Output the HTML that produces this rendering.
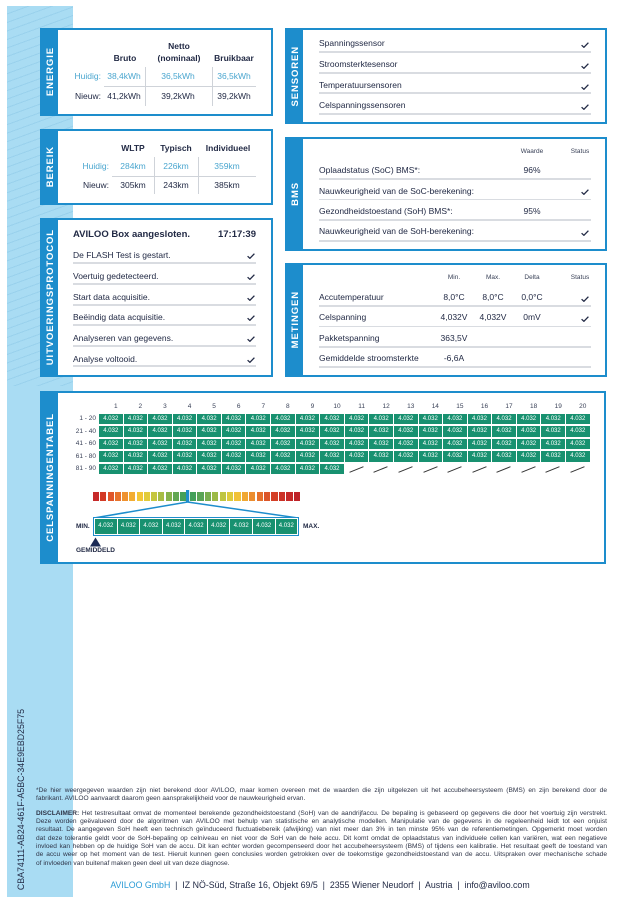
<!DOCTYPE html>
<html><head><meta charset="utf-8">
<style>
*{margin:0;padding:0}
html,body{width:640px;height:904px;background:#fff;overflow:hidden}
body{position:relative;font-family:"Liberation Sans",sans-serif;color:#222a45}
.strip{position:absolute;left:7px;top:6px;width:66px;height:891px;background:#a9dcf3}
.hatch{position:absolute;left:7px;top:6px;width:66px;height:380px;background:repeating-linear-gradient(160deg,rgba(255,255,255,0) 0 7px,rgba(140,200,230,0.55) 7px 8px)}
.box{position:absolute;border:2px solid #1d8dcc;background:#fff;box-sizing:border-box}
.tab{position:absolute;left:0;top:0;bottom:0;width:16px;background:#1d8dcc;display:flex;align-items:center;justify-content:center}
.tab span{writing-mode:vertical-rl;transform:rotate(180deg);color:#fff;font-weight:bold;font-size:9.5px;letter-spacing:0.9px;white-space:nowrap}
.t{position:absolute;white-space:nowrap;line-height:10px;font-size:8.5px;color:#222a45}
.c{width:80px;text-align:center;margin-left:-40px}
.r{width:60px;text-align:right;margin-left:-60px}
.b{font-weight:bold}
.lb{color:#4aa6cf}
.sm{font-size:6.5px;color:#3a4258}
.vl{position:absolute;width:1px;background:#cfd3d9}
.hl{position:absolute;height:1px;background:#cfd3d9}
.ln{position:absolute;height:1.5px;background:#d9dce1}
.ck{position:absolute;width:8px;height:6px}
.grid{position:absolute;left:99px;top:413.5px;display:grid;grid-template-columns:repeat(20,23.58px);grid-template-rows:repeat(5,10.5px);column-gap:1px;row-gap:2px}
.grid i{font-style:normal;background:#189170;color:#fff;font-size:6px;line-height:10.5px;text-align:center}
.grid b{position:relative}
.grid b::after{content:"";position:absolute;left:4px;top:5px;width:15px;height:1px;background:#333;transform:rotate(-22deg)}
.hdr{position:absolute;left:99px;top:402px;display:grid;grid-template-columns:repeat(20,23.58px);column-gap:1px}
.hdr span{font-size:6.5px;line-height:10px;text-align:center;padding-left:10px;color:#3a4258}
.rl{position:absolute;left:56px;width:40px;text-align:right;font-size:6.5px;line-height:10px;color:#3a4258}
.grad{position:absolute;top:492px;height:9px;display:flex;gap:1.2px}
.grad span{flex:1}
.mini{position:absolute;left:93px;top:517px;width:206px;height:19px;border:1.5px solid #1d8dcc;box-sizing:border-box;background:#fff;display:flex;gap:1px;padding:1px}
.mini i{flex:1;font-style:normal;background:#189170;color:#fff;font-size:6px;line-height:14px;text-align:center}
.foot{position:absolute;left:36px;width:571px;font-size:6.6px;line-height:8.33px;color:#2f3548}
.foot div{white-space:nowrap}
.j{text-align:justify;text-align-last:justify;white-space:normal!important}
</style></head><body>

<div class="strip"></div>
<div class="hatch"></div>

<!-- ENERGIE -->
<div class="box" style="left:40px;top:28px;width:233px;height:88px"><div class="tab"><span>ENERGIE</span></div></div>
<div class="t b c" style="left:179px;top:41px">Netto</div>
<div class="t b c" style="left:179px;top:53px">(nominaal)</div>
<div class="t b c" style="left:125px;top:53px">Bruto</div>
<div class="t b c" style="left:234px;top:53px">Bruikbaar</div>
<div class="t r lb" style="left:101px;top:71px">Huidig:</div>
<div class="t c lb" style="left:124px;top:71px">38,4kWh</div>
<div class="t c lb" style="left:178px;top:71px">36,5kWh</div>
<div class="t c lb" style="left:234px;top:71px">36,5kWh</div>
<div class="t r" style="left:101px;top:91px">Nieuw:</div>
<div class="t c" style="left:124px;top:91px">41,2kWh</div>
<div class="t c" style="left:178px;top:91px">39,2kWh</div>
<div class="t c" style="left:234px;top:91px">39,2kWh</div>
<div class="vl" style="left:145px;top:67px;height:39px"></div>
<div class="vl" style="left:212px;top:67px;height:39px"></div>
<div class="hl" style="left:104px;top:86px;width:152px"></div>

<!-- BEREIK -->
<div class="box" style="left:40px;top:129px;width:233px;height:76px"><div class="tab"><span>BEREIK</span></div></div>
<div class="t b c" style="left:133px;top:143px">WLTP</div>
<div class="t b c" style="left:176px;top:143px">Typisch</div>
<div class="t b c" style="left:228px;top:143px">Individueel</div>
<div class="t r lb" style="left:109px;top:161px">Huidig:</div>
<div class="t c lb" style="left:133px;top:161px">284km</div>
<div class="t c lb" style="left:176px;top:161px">226km</div>
<div class="t c lb" style="left:227px;top:161px">359km</div>
<div class="t r" style="left:109px;top:180px">Nieuw:</div>
<div class="t c" style="left:133px;top:180px">305km</div>
<div class="t c" style="left:176px;top:180px">243km</div>
<div class="t c" style="left:227px;top:180px">385km</div>
<div class="vl" style="left:154px;top:157px;height:37px"></div>
<div class="vl" style="left:198px;top:157px;height:37px"></div>
<div class="hl" style="left:112px;top:176px;width:144px"></div>

<!-- UITVOERINGSPROTOCOL -->
<div class="box" style="left:40px;top:218px;width:233px;height:159px"><div class="tab"><span>UITVOERINGSPROTOCOL</span></div></div>
<div class="t b" style="left:73px;top:230px;font-size:9.5px">AVILOO Box aangesloten.</div>
<div class="t b r" style="left:256px;top:230px;font-size:9.5px">17:17:39</div>
<div class="t" style="left:73px;top:250px">De FLASH Test is gestart.</div>
<div class="t" style="left:73px;top:271px">Voertuig gedetecteerd.</div>
<div class="t" style="left:73px;top:292px">Start data acquisitie.</div>
<div class="t" style="left:73px;top:312px">Beëindig data acquisitie.</div>
<div class="t" style="left:73px;top:333px">Analyseren van gegevens.</div>
<div class="t" style="left:73px;top:354px">Analyse voltooid.</div>
<div class="ln" style="left:73px;top:262px;width:183px"></div>
<div class="ln" style="left:73px;top:283px;width:183px"></div>
<div class="ln" style="left:73px;top:304px;width:183px"></div>
<div class="ln" style="left:73px;top:324px;width:183px"></div>
<div class="ln" style="left:73px;top:345px;width:183px"></div>
<div class="ln" style="left:73px;top:365px;width:183px"></div>
<svg class="ck" style="left:247px;top:253px" viewBox="0 0 8 6"><path d="M0.6 3.2 L2.9 5.3 L7.4 0.7" fill="none" stroke="#222a45" stroke-width="1.3"/></svg>
<svg class="ck" style="left:247px;top:274px" viewBox="0 0 8 6"><path d="M0.6 3.2 L2.9 5.3 L7.4 0.7" fill="none" stroke="#222a45" stroke-width="1.3"/></svg>
<svg class="ck" style="left:247px;top:295px" viewBox="0 0 8 6"><path d="M0.6 3.2 L2.9 5.3 L7.4 0.7" fill="none" stroke="#222a45" stroke-width="1.3"/></svg>
<svg class="ck" style="left:247px;top:315px" viewBox="0 0 8 6"><path d="M0.6 3.2 L2.9 5.3 L7.4 0.7" fill="none" stroke="#222a45" stroke-width="1.3"/></svg>
<svg class="ck" style="left:247px;top:336px" viewBox="0 0 8 6"><path d="M0.6 3.2 L2.9 5.3 L7.4 0.7" fill="none" stroke="#222a45" stroke-width="1.3"/></svg>
<svg class="ck" style="left:247px;top:357px" viewBox="0 0 8 6"><path d="M0.6 3.2 L2.9 5.3 L7.4 0.7" fill="none" stroke="#222a45" stroke-width="1.3"/></svg>

<!-- SENSOREN -->
<div class="box" style="left:285px;top:28px;width:322px;height:96px"><div class="tab"><span>SENSOREN</span></div></div>
<div class="t" style="left:319px;top:38px">Spanningssensor</div>
<div class="t" style="left:319px;top:59px">Stroomsterktesensor</div>
<div class="t" style="left:319px;top:80px">Temperatuursensoren</div>
<div class="t" style="left:319px;top:100px">Celspanningssensoren</div>
<div class="ln" style="left:319px;top:51px;width:272px"></div>
<div class="ln" style="left:319px;top:72px;width:272px"></div>
<div class="ln" style="left:319px;top:92px;width:272px"></div>
<div class="ln" style="left:319px;top:113px;width:272px"></div>
<svg class="ck" style="left:581px;top:42px" viewBox="0 0 8 6"><path d="M0.6 3.2 L2.9 5.3 L7.4 0.7" fill="none" stroke="#222a45" stroke-width="1.3"/></svg>
<svg class="ck" style="left:581px;top:63px" viewBox="0 0 8 6"><path d="M0.6 3.2 L2.9 5.3 L7.4 0.7" fill="none" stroke="#222a45" stroke-width="1.3"/></svg>
<svg class="ck" style="left:581px;top:84px" viewBox="0 0 8 6"><path d="M0.6 3.2 L2.9 5.3 L7.4 0.7" fill="none" stroke="#222a45" stroke-width="1.3"/></svg>
<svg class="ck" style="left:581px;top:104px" viewBox="0 0 8 6"><path d="M0.6 3.2 L2.9 5.3 L7.4 0.7" fill="none" stroke="#222a45" stroke-width="1.3"/></svg>

<!-- BMS -->
<div class="box" style="left:285px;top:137px;width:322px;height:114px"><div class="tab"><span>BMS</span></div></div>
<div class="t c sm" style="left:532px;top:147px">Waarde</div>
<div class="t c sm" style="left:580px;top:147px">Status</div>
<div class="t" style="left:319px;top:165px">Oplaadstatus (SoC) BMS*:</div>
<div class="t c" style="left:532px;top:165px">96%</div>
<div class="t" style="left:319px;top:185.5px">Nauwkeurigheid van de SoC-berekening:</div>
<div class="t" style="left:319px;top:206px">Gezondheidstoestand (SoH) BMS*:</div>
<div class="t c" style="left:532px;top:206px">95%</div>
<div class="t" style="left:319px;top:226px">Nauwkeurigheid van de SoH-berekening:</div>
<div class="ln" style="left:319px;top:178px;width:272px"></div>
<div class="ln" style="left:319px;top:198.5px;width:272px"></div>
<div class="ln" style="left:319px;top:219px;width:272px"></div>
<div class="ln" style="left:319px;top:240px;width:272px"></div>
<svg class="ck" style="left:581px;top:189px" viewBox="0 0 8 6"><path d="M0.6 3.2 L2.9 5.3 L7.4 0.7" fill="none" stroke="#222a45" stroke-width="1.3"/></svg>
<svg class="ck" style="left:581px;top:230px" viewBox="0 0 8 6"><path d="M0.6 3.2 L2.9 5.3 L7.4 0.7" fill="none" stroke="#222a45" stroke-width="1.3"/></svg>

<!-- METINGEN -->
<div class="box" style="left:285px;top:263px;width:322px;height:114px"><div class="tab"><span>METINGEN</span></div></div>
<div class="t c sm" style="left:454px;top:273px">Min.</div>
<div class="t c sm" style="left:493px;top:273px">Max.</div>
<div class="t c sm" style="left:532px;top:273px">Delta</div>
<div class="t c sm" style="left:580px;top:273px">Status</div>
<div class="t" style="left:319px;top:292px">Accutemperatuur</div>
<div class="t c" style="left:454px;top:292px">8,0°C</div>
<div class="t c" style="left:493px;top:292px">8,0°C</div>
<div class="t c" style="left:532px;top:292px">0,0°C</div>
<div class="t" style="left:319px;top:312px">Celspanning</div>
<div class="t c" style="left:454px;top:312px">4,032V</div>
<div class="t c" style="left:493px;top:312px">4,032V</div>
<div class="t c" style="left:532px;top:312px">0mV</div>
<div class="t" style="left:319px;top:333px">Pakketspanning</div>
<div class="t c" style="left:454px;top:333px">363,5V</div>
<div class="t" style="left:319px;top:353px">Gemiddelde stroomsterkte</div>
<div class="t c" style="left:454px;top:353px">-6,6A</div>
<div class="ln" style="left:319px;top:305px;width:272px"></div>
<div class="ln" style="left:319px;top:325.5px;width:272px"></div>
<div class="ln" style="left:319px;top:346px;width:272px"></div>
<div class="ln" style="left:319px;top:366px;width:272px"></div>
<svg class="ck" style="left:581px;top:296px" viewBox="0 0 8 6"><path d="M0.6 3.2 L2.9 5.3 L7.4 0.7" fill="none" stroke="#222a45" stroke-width="1.3"/></svg>
<svg class="ck" style="left:581px;top:316px" viewBox="0 0 8 6"><path d="M0.6 3.2 L2.9 5.3 L7.4 0.7" fill="none" stroke="#222a45" stroke-width="1.3"/></svg>

<!-- CELSPANNINGENTABEL -->
<div class="box" style="left:40px;top:391px;width:566px;height:173px"><div class="tab"><span>CELSPANNINGENTABEL</span></div></div>
<div class="hdr"><span>1</span><span>2</span><span>3</span><span>4</span><span>5</span><span>6</span><span>7</span><span>8</span><span>9</span><span>10</span><span>11</span><span>12</span><span>13</span><span>14</span><span>15</span><span>16</span><span>17</span><span>18</span><span>19</span><span>20</span></div>
<div class="rl" style="top:414px">1 - 20</div>
<div class="rl" style="top:426.5px">21 - 40</div>
<div class="rl" style="top:439px">41 - 60</div>
<div class="rl" style="top:451.5px">61 - 80</div>
<div class="rl" style="top:464px">81 - 90</div>
<div class="grid">
<i>4.032</i><i>4.032</i><i>4.032</i><i>4.032</i><i>4.032</i><i>4.032</i><i>4.032</i><i>4.032</i><i>4.032</i><i>4.032</i><i>4.032</i><i>4.032</i><i>4.032</i><i>4.032</i><i>4.032</i><i>4.032</i><i>4.032</i><i>4.032</i><i>4.032</i><i>4.032</i>
<i>4.032</i><i>4.032</i><i>4.032</i><i>4.032</i><i>4.032</i><i>4.032</i><i>4.032</i><i>4.032</i><i>4.032</i><i>4.032</i><i>4.032</i><i>4.032</i><i>4.032</i><i>4.032</i><i>4.032</i><i>4.032</i><i>4.032</i><i>4.032</i><i>4.032</i><i>4.032</i>
<i>4.032</i><i>4.032</i><i>4.032</i><i>4.032</i><i>4.032</i><i>4.032</i><i>4.032</i><i>4.032</i><i>4.032</i><i>4.032</i><i>4.032</i><i>4.032</i><i>4.032</i><i>4.032</i><i>4.032</i><i>4.032</i><i>4.032</i><i>4.032</i><i>4.032</i><i>4.032</i>
<i>4.032</i><i>4.032</i><i>4.032</i><i>4.032</i><i>4.032</i><i>4.032</i><i>4.032</i><i>4.032</i><i>4.032</i><i>4.032</i><i>4.032</i><i>4.032</i><i>4.032</i><i>4.032</i><i>4.032</i><i>4.032</i><i>4.032</i><i>4.032</i><i>4.032</i><i>4.032</i>
<i>4.032</i><i>4.032</i><i>4.032</i><i>4.032</i><i>4.032</i><i>4.032</i><i>4.032</i><i>4.032</i><i>4.032</i><i>4.032</i><b></b><b></b><b></b><b></b><b></b><b></b><b></b><b></b><b></b><b></b>
</div>

<div class="grad" style="left:93px;width:93px">
<span style="background:#c62a2a"></span><span style="background:#d33a26"></span><span style="background:#e0562a"></span><span style="background:#e8732c"></span><span style="background:#ef922f"></span><span style="background:#f3ad32"></span><span style="background:#f3c637"></span><span style="background:#e2cb3a"></span><span style="background:#c5c63f"></span><span style="background:#a7bd44"></span><span style="background:#86b24b"></span><span style="background:#62a752"></span><span style="background:#44a05a"></span>
</div>
<div class="grad" style="left:190px;width:110px">
<span style="background:#44a05a"></span><span style="background:#5aa455"></span><span style="background:#7aae4e"></span><span style="background:#9cba46"></span><span style="background:#bfc541"></span><span style="background:#decb3b"></span><span style="background:#f1c236"></span><span style="background:#f0a833"></span><span style="background:#ec8d2f"></span><span style="background:#e5712c"></span><span style="background:#dc5629"></span><span style="background:#d43f27"></span><span style="background:#cc3127"></span><span style="background:#c52828"></span><span style="background:#bf2228"></span>
</div>
<svg style="position:absolute;left:0;top:0" width="640" height="560">
<line x1="187.5" y1="502" x2="94" y2="518" stroke="#1d8dcc" stroke-width="1.5"/>
<line x1="187.5" y1="502" x2="298" y2="518" stroke="#1d8dcc" stroke-width="1.5"/>
<rect x="186" y="490" width="3.2" height="12.5" fill="#1d8dcc"/>
<polygon points="95.5,537.5 90,546.5 101,546.5" fill="#1b2a55"/>
</svg>
<div class="mini"><i>4.032</i><i>4.032</i><i>4.032</i><i>4.032</i><i>4.032</i><i>4.032</i><i>4.032</i><i>4.032</i><i>4.032</i></div>
<div class="t b" style="left:76px;top:522px;font-size:6.5px">MIN.</div>
<div class="t b" style="left:303px;top:522px;font-size:6.5px">MAX.</div>
<div class="t b" style="left:76px;top:546px;font-size:6.5px">GEMIDDELD</div>

<!-- vertical ID -->
<div style="position:absolute;left:15px;top:704px;width:11px;height:192px;display:flex;align-items:center;justify-content:center">
<span style="writing-mode:vertical-rl;transform:rotate(180deg);font-size:8.8px;color:#222a45;white-space:nowrap">CBA74111-AB24-461F-A5BC-34E9EBD25F75</span>
</div>

<!-- footer -->
<div class="foot" style="top:786.8px">
<div class="j">*De hier weergegeven waarden zijn niet berekend door AVILOO, maar komen overeen met de waarden die zijn uitgelezen uit het accubeheersysteem (BMS) en zijn berekend door de</div>
<div>fabrikant. AVILOO aanvaardt daarom geen aansprakelijkheid voor de nauwkeurigheid ervan.</div>
</div>
<div class="foot" style="top:809.8px">
<div class="j"><b>DISCLAIMER:</b> Het testresultaat omvat de momenteel berekende gezondheidstoestand (SoH) van de aandrijfaccu. De bepaling is gebaseerd op gegevens die door het voertuig zijn verstrekt.</div>
<div class="j">Deze worden geëvalueerd door de algoritmen van AVILOO met behulp van statistische en analytische modellen. Manipulatie van de gegevens in de regeleenheid leidt tot een onjuist</div>
<div class="j">resultaat. De aangegeven SoH heeft een technisch geïnduceerd fluctuatiebereik (afwijking) van niet meer dan 3% in ten minste 95% van de referentiemetingen. Opgemerkt moet worden</div>
<div class="j">dat deze tolerantie geldt voor de SoH-bepaling op celniveau en niet voor de SoH van de hele accu. Dit komt omdat de oplaadstatus van individuele cellen kan variëren, wat een negatieve</div>
<div class="j">invloed kan hebben op de huidige SoH van de accu. Dit kan echter worden gecompenseerd door het accubeheersysteem (BMS) of tijdens een kalibratie. Het resultaat geeft de toestand van</div>
<div class="j">de accu weer op het moment van de test. Hieruit kunnen geen conclusies worden getrokken over de toekomstige gezondheidstoestand van de accu. Uitspraken over mechanische schade</div>
<div>of invloeden van buitenaf maken geen deel uit van deze diagnose.</div>
</div>
<div style="position:absolute;left:0;top:879px;width:640px;text-align:center;font-size:8.8px;line-height:12px;color:#222a45;white-space:nowrap"><span style="color:#2a9bd6">AVILOO GmbH</span> &nbsp;|&nbsp; IZ NÖ-Süd, Straße 16, Objekt 69/5 &nbsp;|&nbsp; 2355 Wiener Neudorf &nbsp;|&nbsp; Austria &nbsp;|&nbsp; info@aviloo.com</div>

</body></html>
